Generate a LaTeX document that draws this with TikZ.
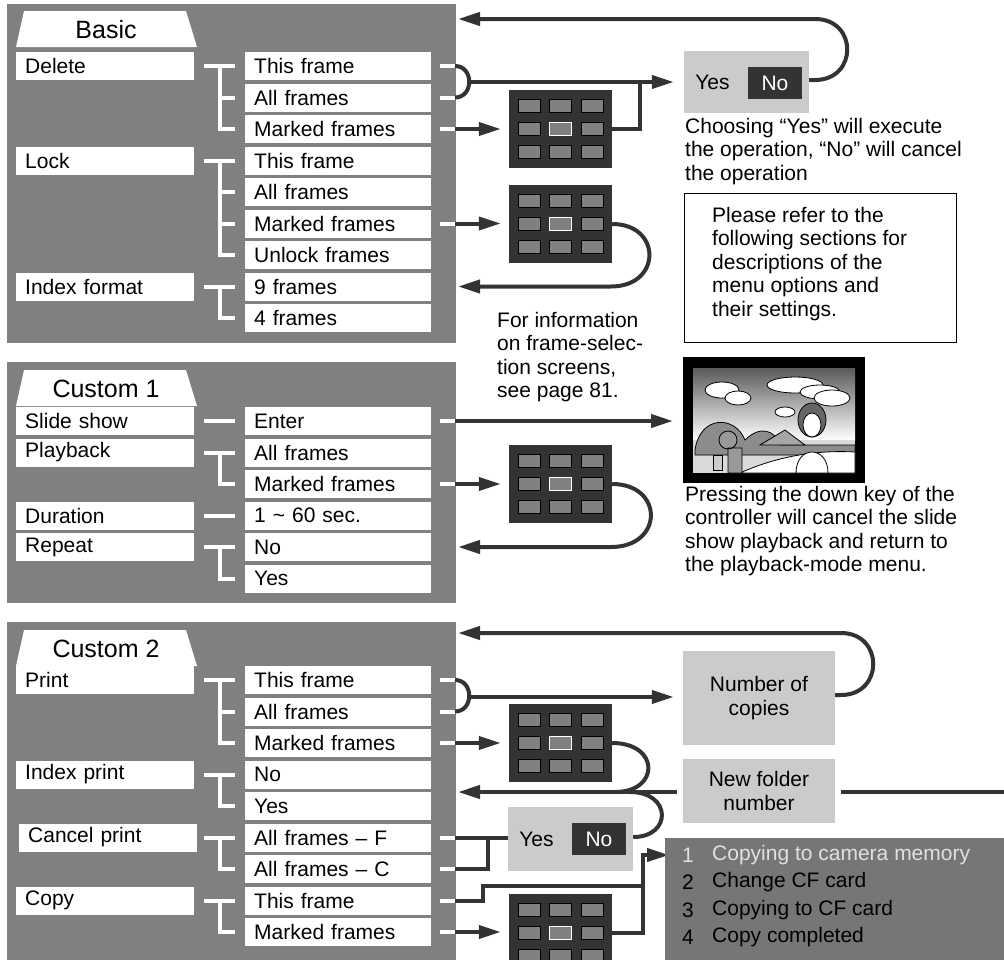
\documentclass[tikz,border=0pt]{standalone}
\usepackage{fontspec}
\setmainfont{Liberation Sans}
\usetikzlibrary{arrows.meta,positioning}

\definecolor{panelgray}{HTML}{808080}
\definecolor{dk}{HTML}{333333}
\definecolor{boxgray}{HTML}{CBCBCB}
\definecolor{listgray}{HTML}{767676}

\tikzset{
  panel/.style={fill=panelgray,draw=none},
  tab/.style={fill=white,draw=none},
  lefty/.style={fill=white,anchor=west,minimum width=178pt,minimum height=28pt,
    text width=160pt,inner sep=0pt,align=left,font=\fontsize{21}{23}\selectfont},
  righty/.style={lefty,minimum width=186pt,text width=168pt},
  wl/.style={white,line width=4pt},
  dl/.style={dk,line width=4pt},
  arr/.style={dl,-{Triangle[length=22pt,width=13pt]}},
  graybox/.style={fill=boxgray,inner sep=0pt,align=center,font=\fontsize{21}{23.5}\selectfont},
  selbox/.style={fill=dk,minimum width=103pt,minimum height=78pt,inner sep=0pt},
  cell/.style={fill=panelgray,draw=black,line width=1pt,minimum width=22pt,minimum height=13pt,inner sep=0pt},
  note/.style={anchor=north west,inner sep=0pt,align=left,font=\fontsize{21}{23.5}\selectfont},
}

% frame-selection screen
\newcommand\selscreen[3]{%
  \node[selbox] (#1) at (#2,#3) {};
  \foreach \i in {-31.5,0,31.5}
    \foreach \j in {-23,0,23}
      \node[cell] at ([shift={(\i,\j)}]#1.center) {};
  \node[cell,draw=white] at (#1.center) {};
}

\begin{document}
\begin{tikzpicture}[x=1pt,y=-1pt]
  \useasboundingbox (0,0) rectangle (1004,959);

  % panels and tabs
  \fill[panelgray] (7,4) rectangle (456,343);
  \fill[panelgray] (7,362) rectangle (456,603);
  \fill[panelgray] (7,622) rectangle (456,965);
  \foreach \t/\y in {Basic/11,Custom 1/370,Custom 2/630}{
    \fill[tab] (16,\y+36) -- (24,\y) -- (186,\y) -- (197,\y+36) -- cycle;
    \node[font=\fontsize{25}{25}\selectfont] at (106,\y+19) {\t};
  }

  % Basic
  \node[lefty] (bdel) at (16,66) {Delete};
  \node[lefty] (block) at (16,160.5) {Lock};
  \node[lefty] (bidx) at (16,286.5) {Index format};
  \foreach \t [count=\k from 0] in {This frame,All frames,Marked frames,This frame,All frames,Marked frames,Unlock frames,9 frames,4 frames}
    \node[righty] (b\k) at (245,66+31.5*\k) {\t};
  \draw[wl] (204,66) -- (235,66) (220,66) -- (220,129) -- (235,129) (220,97.5) -- (235,97.5);
  \draw[wl] (204,160.5) -- (235,160.5) (220,160.5) -- (220,255) -- (235,255) (220,192) -- (235,192) (220,223.5) -- (235,223.5);
  \draw[wl] (204,286.5) -- (235,286.5) (220,286.5) -- (220,318) -- (235,318);

  % Custom 1
  \node[lefty] (cshow) at (16,421) {Slide show};
  \node[lefty] (cplay) at (16,452.5) {Playback};
  \node[lefty] (cdur) at (16,515.5) {Duration};
  \node[lefty] (crep) at (16,547) {Repeat};
  \foreach \t [count=\k from 0] in {Enter,All frames,Marked frames,1 \textasciitilde{} 60 sec.,No,Yes}
    \node[righty] (c\k) at (245,421+31.5*\k) {\t};
  \draw[wl] (204,421) -- (235,421) (204,515.5) -- (235,515.5);
  \draw[wl] (204,452.5) -- (235,452.5) (220,452.5) -- (220,484) -- (235,484);
  \draw[wl] (204,547) -- (235,547) (220,547) -- (220,578.5) -- (235,578.5);

  % Custom 2
  \node[lefty] (dprint) at (16,680) {Print};
  \node[lefty] (dindex) at (16,774.5) {Index print};
  \node[lefty] (dcancel) at (19,837.5) {Cancel print};
  \node[lefty] (dcopy) at (16,900.5) {Copy};
  \foreach \t [count=\k from 0] in {This frame,All frames,Marked frames,No,Yes,All frames -- F,All frames -- C,This frame,Marked frames}
    \node[righty] (d\k) at (245,680+31.5*\k) {\t};
  \draw[wl] (204,680) -- (235,680) (220,680) -- (220,743) -- (235,743) (220,711.5) -- (235,711.5);
  \draw[wl] (204,774.5) -- (235,774.5) (220,774.5) -- (220,806) -- (235,806);
  \draw[wl] (204,837.5) -- (235,837.5) (220,837.5) -- (220,869) -- (235,869);
  \draw[wl] (204,900.5) -- (235,900.5) (220,900.5) -- (220,932) -- (235,932);

  % right stubs
  \foreach \y in {66,97.5,129,223.5,421,484,680,711.5,743,837.5,869,900.5,932}
    \draw[wl] (440,\y) -- (455,\y);

  % screens
  \selscreen{s1}{560.5}{128.5}
  \selscreen{s2}{560.5}{224}
  \selscreen{s3}{560.5}{484}
  \selscreen{s4}{560.5}{743}
  \selscreen{s5}{560.5}{933}

  \node[graybox,minimum width=125pt,minimum height=62pt] (yn1) at (746.5,82) {};
  \node[anchor=west,font=\fontsize{21}{23}\selectfont] at (yn1.west) [xshift=8pt] {Yes};
  \node[fill=dk,text=white,minimum width=54pt,minimum height=32pt,inner sep=0pt,font=\fontsize{21}{23}\selectfont] (no1) at (775,83) {No};

  \node[graybox,minimum width=125pt,minimum height=64pt] (yn2) at (570.5,839) {};
  \node[anchor=west,font=\fontsize{21}{23}\selectfont] at (yn2.west) [xshift=8pt] {Yes};
  \node[fill=dk,text=white,minimum width=54pt,minimum height=32pt,inner sep=0pt,font=\fontsize{21}{23}\selectfont] (no2) at (599,839) {No};

  \node[graybox,minimum width=152pt,minimum height=94pt] (ncopies) at (759,698) {Number of\\copies};
  \node[graybox,minimum width=152pt,minimum height=64pt] (nfolder) at (759,791) {New folder\\number};

  % Basic connectors
  \draw[dl] (455,66) .. controls (474,66) and (474,97.5) .. (455,97.5);
  \draw[arr,shorten >=10pt] (470,82) -- (yn1.west |- 0,82);
  \draw[arr,shorten >=8pt] (455,129) -- (s1.west |- 0,129);
  \draw[dl] (s1.east) -- (640,128.5) -- (640,82);
  \draw[arr] (yn1.east |- 0,80) -- (815,80) .. controls (858,80) and (858,19) .. (815,19) -- (458,19);
  \draw[arr,shorten >=8pt] (455,223.5) -- (s2.west |- 0,223.5);
  \draw[arr] (s2.east) .. controls (662,224) and (662,286.5) .. (611,286.5) -- (458,286.5);

  % Custom 1 connectors
  \draw[arr,shorten >=10pt] (455,421) -- (683,421);
  \draw[arr,shorten >=8pt] (455,484) -- (s3.west);
  \draw[arr] (s3.east) .. controls (664,484) and (664,547) .. (611,547) -- (458,547);

  % Custom 2 connectors
  \draw[dl] (455,680) .. controls (474,680) and (474,711.5) .. (455,711.5);
  \draw[arr,shorten >=9pt] (470,697) -- (ncopies.west |- 0,697);
  \draw[arr] (ncopies.east |- 0,695) -- (841,695) .. controls (884,695) and (884,633) .. (841,633) -- (458,633);
  \draw[arr,shorten >=8pt] (455,743) -- (s4.west);
  \draw[dl] (s4.east) .. controls (660,743) and (660,792) .. (615,792);
  \draw[dl] (yn2.east |- 0,837) .. controls (672,837) and (672,792) .. (630,792);
  \draw[arr] (nfolder.west |- 0,792) ++(-6,0) -- (458,792);
  \draw[dl] (nfolder.east |- 0,792) ++(6,0) -- (1004,792);
  \draw[dl] (455,837.5) -- (yn2.west |- 0,837.5) (455,869) -- (488,869) -- (488,835.5);
  \draw[dl] (455,900.5) -- (483,900.5) -- (483,886) -- (643,886);
  \draw[arr] (s5.east) -- (643,933) -- (643,855) -- (669,855);
  \draw[arr,shorten >=8pt] (455,932) -- (s5.west |- 0,932);

  % copy steps
  \fill[listgray] (665,838) rectangle (1004,965);
  \foreach \n/\t/\c [count=\k from 0] in {1/Copying to camera memory/black!12,2/Change CF card/black,3/Copying to CF card/black,4/Copy completed/black}{
    \node[anchor=west,text=\c,font=\fontsize{21}{23}\selectfont,inner sep=0pt] at (682,855+27.5*\k) {\n};
    \node[anchor=west,text=\c,font=\fontsize{21}{23}\selectfont,inner sep=0pt] at (712,855+27.5*\k) {\t};
  }

  % slide show picture
  \fill[black] (683,357) rectangle (865,483);
  \shade[top color=black!65,bottom color=white] (693,368) rectangle (855,440);
  \fill[black!15] (693,440) rectangle (855,473);
  \foreach \cx/\cy/\rx/\ry in {722/390/17/8,738/398/13/7,795/385/28/8,820/392/20/7,832/398/18/8,785/412/10/5}
    \draw[fill=white,line width=0.8pt] (\cx,\cy) ellipse ({\rx} and {\ry});
  \draw[fill=black!45,line width=0.8pt] (695,450) .. controls (700,415) and (735,415) .. (745,440) .. controls (760,425) and (775,430) .. (780,445) -- (855,445) -- (855,455) -- (695,455) -- cycle;
  \draw[fill=white,line width=0.8pt] (740,473) .. controls (780,455) and (820,450) .. (855,452) -- (855,473) -- cycle;
  \draw[fill=black!35,line width=0.8pt] (760,445) -- (785,430) -- (805,445) -- cycle;
  \draw[fill=black!40,line width=0.8pt] (728,440) circle (9) (728,448) rectangle (742,473);
  \draw[fill=black!20,line width=0.8pt] (713,455) rectangle (722,470);
  \draw[fill=black!60,line width=0.8pt] (812,420) ellipse (14 and 17);
  \draw[fill=white,line width=0.8pt] (812,425) ellipse (9 and 12);
  \draw[fill=white,line width=0.8pt] (796,473) .. controls (796,445) and (828,445) .. (828,473) -- cycle;

  % notes
  \node[note] (chooseTxt) at (685,118) {Choosing “Yes” will execute\\the operation, “No” will cancel\\the operation};
  \draw[line width=1pt,fill=white] (684,193) rectangle (956,342);
  \node[note] (referTxt) at (712,207) {Please refer to the\\following sections for\\descriptions of the\\menu options and\\their settings.};
  \node[note] (infoTxt) at (497,312) {For information\\on frame-selec-\\tion screens,\\see page 81.};
  \node[note] (pressTxt) at (685,486) {Pressing the down key of the\\controller will cancel the slide\\show playback and return to\\the playback-mode menu.};
\end{tikzpicture}
\end{document}
